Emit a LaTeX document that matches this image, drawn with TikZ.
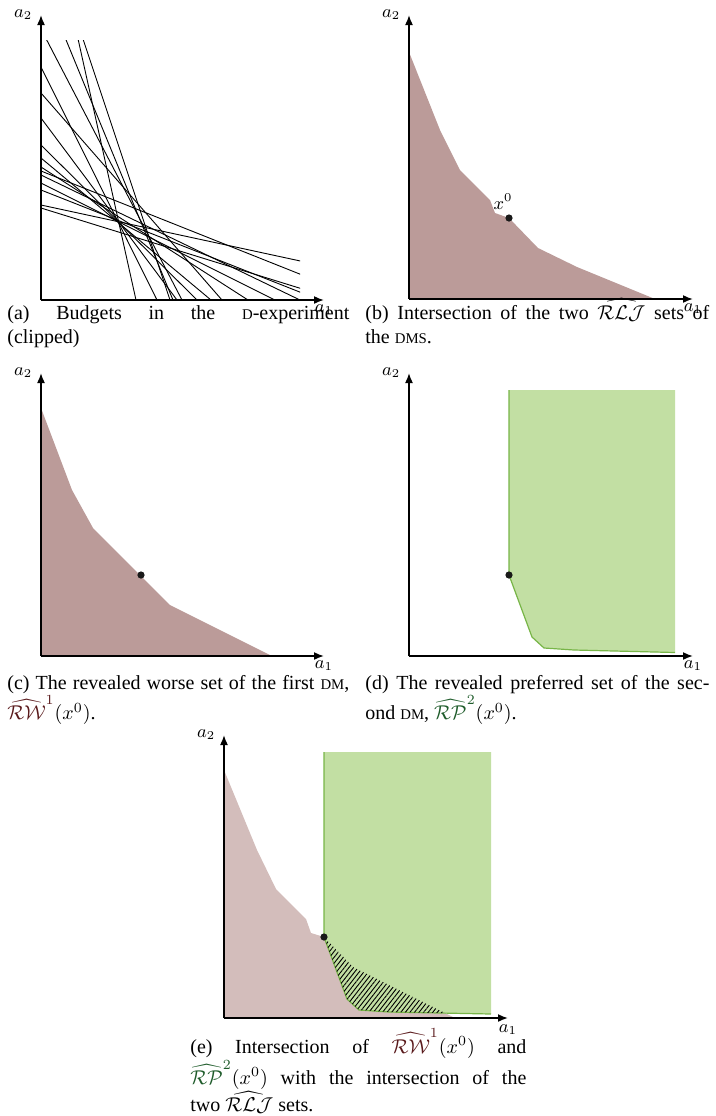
\documentclass[tikz,border=0pt]{standalone}
\usepackage{amsmath}
\usepackage{fontspec}
\setmainfont{Liberation Serif}
\usetikzlibrary{arrows.meta,positioning,patterns.meta}
\definecolor{RWfill}{HTML}{BB9B99}
\definecolor{RWpale}{HTML}{D3BDBB}
\definecolor{RPfill}{HTML}{C2DFA3}
\definecolor{RPline}{HTML}{78B548}
\definecolor{RWtext}{HTML}{5A1A1C}
\definecolor{RPtext}{HTML}{1F5C2B}
\newcommand{\dmsc}[1]{{\fontsize{7.4}{9}\selectfont #1}}
\newcommand{\RLJ}{\widehat{\mathcal{RLJ}}}
\newcommand{\RWone}{{\color{RWtext}\widehat{\mathcal{RW}}^{1}}}
\newcommand{\RPtwo}{{\color{RPtext}\widehat{\mathcal{RP}}^{2}}}

\begin{document}
\begin{tikzpicture}[x=0.5pt,y=0.5pt,
  axis/.style={-{Latex[length=5pt,width=4pt]},line width=0.8pt},
  axlabel/.style={font=\small,inner sep=1pt},
  budget/.style={line width=0.45pt},
  rwset/.style={fill=RWfill},
  rwpale/.style={fill=RWpale},
  rpset/.style={fill=RPfill},
  rpedge/.style={draw=RPline,line width=0.6pt},
  choice/.style={circle,fill=black!90,inner sep=0pt,minimum size=3.6pt},
  captext/.style={anchor=base west,inner sep=0pt,text width=171pt,align=justify,font=\fontsize{10}{12.3}\selectfont}
]
\useasboundingbox (0,0) rectangle (716,-1116);

% (a) budgets, given by their intercepts a1/a2
\coordinate (Oa) at (41,-300);
\begin{scope}[shift={(Oa)}]
  \clip (0,0) rectangle (259,260);
  \foreach \bx/\by in {116/233,136/182,156/155,170/142,234/117,440/95,95/428,
                       141/271,132/321,129/387,181/207,207/133,324/129,297/92,279/110,259/125}
    \draw[budget] (0,\by) -- (\bx,0);
\end{scope}
\draw[axis] (Oa) -- ++(0,285) node[axlabel,left=3pt] (a2a) {$a_2$};
\draw[axis] (Oa) -- ++(283,0) node[axlabel,below=1pt] (a1a) {$a_1$};
\node[captext] (capa) at (7,-319) {(a) Budgets in the \dmsc{D}-experiment\linebreak (clipped)};

% (b) intersection of the RLJ sets
\coordinate (Ob) at (409,-299);
\begin{scope}[shift={(Ob)}]
  \fill[rwset] (0,0) -- (0,247) -- (31,169) -- (51,129) -- (79,101) -- (81,99) -- (86,86) -- (100,81) -- (129,51) -- (168,32) -- (246,0) -- cycle;
  \node[choice] (xb) at (100,81) {};
\end{scope}
\node[font=\small,inner sep=1pt,above=1pt of xb,xshift=-3pt] (xlab) {$x^0$};
\draw[axis] (Ob) -- ++(0,284) node[axlabel,left=3pt] (a2b) {$a_2$};
\draw[axis] (Ob) -- ++(284,0) node[axlabel,below=1pt] (a1b) {$a_1$};
\node[captext,text width=172pt] (capb) at (365,-319) {(b) Intersection of the two $\RLJ$ sets of\linebreak the \dmsc{DMS}.};

% (c) revealed worse set
\coordinate (Oc) at (41,-656);
\begin{scope}[shift={(Oc)}]
  \fill[rwset] (0,0) -- (0,248) -- (31,166) -- (52,128) -- (129,51) -- (231,0) -- cycle;
  \node[choice] (xc) at (100,81) {};
\end{scope}
\draw[axis] (Oc) -- ++(0,283) node[axlabel,left=3pt] (a2c) {$a_2$};
\draw[axis] (Oc) -- ++(283,0) node[axlabel,below=1pt] (a1c) {$a_1$};
\node[captext] (capc) at (7,-689) {(c) The revealed worse set of the first \dmsc{DM},\linebreak $\RWone(x^0)$.};

% (d) revealed preferred set
\coordinate (Od) at (409,-656);
\begin{scope}[shift={(Od)}]
  \fill[rpset] (100,266) -- (100,81) -- (123,19) -- (135,8) -- (165,6) -- (266,3.5) -- (266,266) -- cycle;
  \draw[rpedge] (100,266) -- (100,81) -- (123,19) -- (135,8) -- (165,6) -- (266,3.5);
  \node[choice] (xd) at (100,81) {};
\end{scope}
\draw[axis] (Od) -- ++(0,283) node[axlabel,left=3pt] (a2d) {$a_2$};
\draw[axis] (Od) -- ++(284,0) node[axlabel,below=1pt] (a1d) {$a_1$};
\node[captext,text width=172pt] (capd) at (365,-689) {(d) The revealed preferred set of the sec-\linebreak ond \dmsc{DM}, $\RPtwo(x^0)$.};

% (e) both sets together
\coordinate (Oe) at (224,-1018);
\begin{scope}[shift={(Oe)}]
  \fill[rwpale] (0,0) -- (0,248) -- (33,168) -- (52,129) -- (82,99) -- (87,85) -- (100,81) -- (129,51) -- (231,0) -- cycle;
  \fill[rpset] (100,266) -- (100,81) -- (123,19) -- (135,8) -- (165,6) -- (267,4) -- (267,266) -- cycle;
  \draw[rpedge] (100,266) -- (100,81) -- (123,19) -- (135,8) -- (165,6) -- (267,4);
  \begin{scope}
    \clip (100,266) -- (100,81) -- (123,19) -- (135,8) -- (165,6) -- (267,4) -- (267,266) -- cycle;
    \fill[pattern={Lines[angle=52,distance=1.8pt,line width=0.45pt]}] (0,0) -- (0,248) -- (33,168) -- (52,129) -- (82,99) -- (87,85) -- (100,81) -- (129,51) -- (231,0) -- cycle;
  \end{scope}
  \node[choice] (xe) at (100,81) {};
\end{scope}
\draw[axis] (Oe) -- ++(0,283) node[axlabel,left=3pt] (a2e) {$a_2$};
\draw[axis] (Oe) -- ++(284,0) node[axlabel,below=2pt] (a1e) {$a_1$};
\node[captext,text width=168pt] (cape) at (190,-1053) {(e) Intersection of $\RWone(x^0)$ and\linebreak $\RPtwo(x^0)$ with the intersection of the\linebreak two $\RLJ$ sets.};
\end{tikzpicture}
\end{document}
